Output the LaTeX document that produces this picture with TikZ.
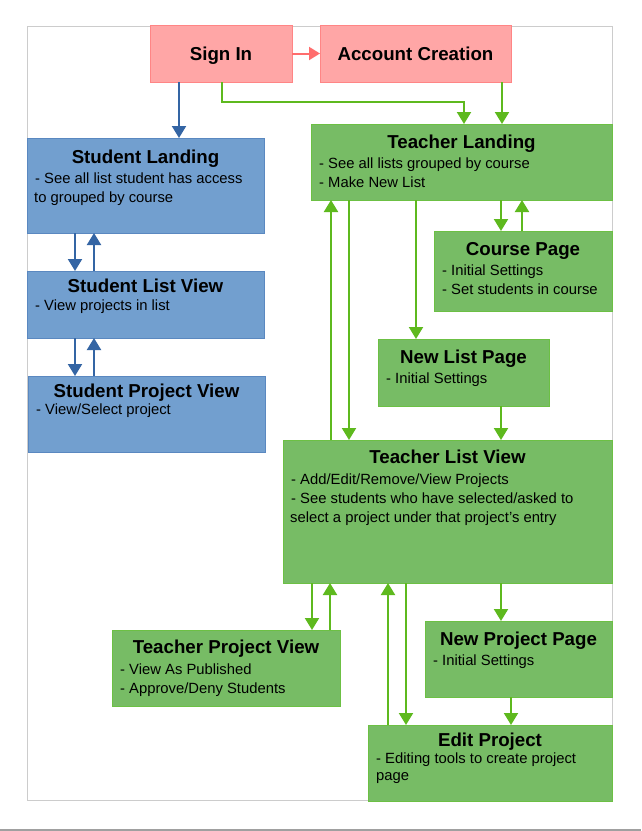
\documentclass[tikz,border=0pt]{standalone}
\usepackage{fontspec}
\setmainfont{Liberation Sans}
\usetikzlibrary{arrows.meta}

\definecolor{redfill}{HTML}{FFA6A6}
\definecolor{redline}{HTML}{FF8585}
\definecolor{redarrow}{HTML}{FF6D6D}
\definecolor{bluefill}{HTML}{729FCF}
\definecolor{blueline}{HTML}{5A88C0}
\definecolor{bluearrow}{HTML}{3465A4}
\definecolor{greenfill}{HTML}{77BC65}
\definecolor{greenline}{HTML}{6CC044}
\definecolor{greenarrow}{HTML}{5EB91E}
\definecolor{framegray}{HTML}{CCCCCC}
\definecolor{rulegray}{HTML}{A0A0A0}

\tikzset{
  box/.style={rectangle, inner sep=0pt, outer sep=0pt, anchor=north west, line width=0.8pt},
  redbox/.style={box, fill=redfill, draw=redline},
  bluebox/.style={box, fill=bluefill, draw=blueline},
  greenbox/.style={box, fill=greenfill, draw=greenline},
  ttl/.style={inner sep=0pt, anchor=base, font=\fontsize{18.7}{22}\selectfont\bfseries},
  bodytxt/.style={inner sep=0pt, anchor=base west, font=\fontsize{14.8}{18}\selectfont},
  conn/.style={line width=2pt, -{Triangle[width=14pt,length=12pt]}},
  rconn/.style={conn, draw=redarrow, -{Triangle[width=13pt,length=11pt]}},
  bconn/.style={conn, draw=bluearrow},
  gconn/.style={conn, draw=greenarrow},
}

% \panel{name}{style}{x}{y}{width}{height}{title}{title baseline offset}
\newcommand{\panel}[8]{%
  \node[#2, minimum width=#5pt, minimum height=#6pt] (#1) at (#3,#4) {};
  \node[ttl] (#1-t) at ([yshift=-#8pt]#1.north) {#7};
}
% \panelline{name}{label}{baseline offset}{text}
\newcommand{\panelline}[4]{%
  \node[bodytxt] (#1-#2) at ([xshift=8pt,yshift=-#3pt]#1.north west) {#4};
}

\begin{document}
\begin{tikzpicture}[x=1pt, y=-1pt]
  \useasboundingbox (0,0) rectangle (641,831);
  \fill[white] (0,0) rectangle (641,831);

  % page outline and bottom rule
  \draw[framegray, line width=1pt] (27,26) rectangle (612,800);
  \draw[rulegray, line width=1.2pt] (0,830) -- (641,830);

  % entry boxes
  \node[redbox, minimum width=142pt, minimum height=57pt] (signin) at (150,25) {};
  \node[ttl] (signin-t) at (signin.center |- 0,60) {Sign In};
  \node[redbox, minimum width=191pt, minimum height=57pt] (account) at (320,25) {};
  \node[ttl] (account-t) at (account.center |- 0,60) {Account Creation};

  % student side
  \panel{sland}{bluebox}{27}{138}{237}{95}{Student Landing}{25}
  \panelline{sland}{1}{45}{- See all list student has access}
  \node[bodytxt] (sland-2) at ([xshift=7pt,yshift=-64pt]sland.north west) {to grouped by course};

  \panel{slist}{bluebox}{27}{271}{237}{67}{Student List View}{21}
  \panelline{slist}{1}{39}{- View projects in list}

  \panel{sproj}{bluebox}{28}{376}{237}{76}{Student Project View}{21}
  \panelline{sproj}{1}{38}{- View/Select project}

  % teacher side
  \panel{tland}{greenbox}{311}{124}{301}{76}{Teacher Landing}{24}
  \panelline{tland}{1}{44}{- See all lists grouped by course}
  \panelline{tland}{2}{63}{- Make New List}

  \panel{course}{greenbox}{434}{231}{178}{80}{Course Page}{24}
  \panelline{course}{1}{44}{- Initial Settings}
  \panelline{course}{2}{63}{- Set students in course}

  \panel{newlist}{greenbox}{378}{339}{171}{67}{New List Page}{24}
  \panelline{newlist}{1}{44}{- Initial Settings}

  \panel{tlist}{greenbox}{283}{440}{329}{143}{Teacher List View}{23}
  \panelline{tlist}{1}{44}{- Add/Edit/Remove/View Projects}
  \panelline{tlist}{2}{63}{- See students who have selected/asked to}
  \node[bodytxt] (tlist-3) at ([xshift=7pt,yshift=-82pt]tlist.north west) {select a project under that project’s entry};

  \panel{tproj}{greenbox}{112}{630}{228}{76}{Teacher Project View}{23}
  \panelline{tproj}{1}{44}{- View As Published}
  \panelline{tproj}{2}{63}{- Approve/Deny Students}

  \panel{newproj}{greenbox}{425}{621}{187}{76}{New Project Page}{24}
  \panelline{newproj}{1}{44}{- Initial Settings}

  \panel{edit}{greenbox}{368}{725}{244}{76}{Edit Project}{21}
  \panelline{edit}{1}{38}{- Editing tools to create project}
  \panelline{edit}{2}{55}{page}

  % connectors from the entry boxes
  \draw[rconn] (signin.east) -- (account.west);
  \draw[bconn] (signin.south -| 179,0) -- (sland.north -| 179,0);
  \draw[gconn] (signin.south -| 222,0) -- (222,102) -- (464,102) -- (tland.north -| 464,0);
  \draw[gconn] (account.south -| 502,0) -- (tland.north -| 502,0);

  % student navigation
  \draw[bconn] (sland.south -| 75,0) -- (slist.north -| 75,0);
  \draw[bconn] (slist.north -| 94,0) -- (sland.south -| 94,0);
  \draw[bconn] (slist.south -| 75,0) -- (sproj.north -| 75,0);
  \draw[bconn] (sproj.north -| 94,0) -- (slist.south -| 94,0);

  % teacher navigation
  \draw[gconn] (tland.south -| 501,0) -- (course.north -| 501,0);
  \draw[gconn] (course.north -| 522,0) -- (tland.south -| 522,0);
  \draw[gconn] (tland.south -| 416,0) -- (newlist.north -| 416,0);
  \draw[gconn] (newlist.south -| 501,0) -- (tlist.north -| 501,0);
  \draw[gconn] (tlist.north -| 331,0) -- (tland.south -| 331,0);
  \draw[gconn] (tland.south -| 349,0) -- (tlist.north -| 349,0);

  \draw[gconn] (tlist.south -| 312,0) -- (tproj.north -| 312,0);
  \draw[gconn] (tproj.north -| 330,0) -- (tlist.south -| 330,0);
  \draw[gconn] (tlist.south -| 501,0) -- (newproj.north -| 501,0);
  \draw[gconn] (edit.north -| 388,0) -- (tlist.south -| 388,0);
  \draw[gconn] (tlist.south -| 406,0) -- (edit.north -| 406,0);
  \draw[gconn] (newproj.south -| 511,0) -- (edit.north -| 511,0);
\end{tikzpicture}
\end{document}
